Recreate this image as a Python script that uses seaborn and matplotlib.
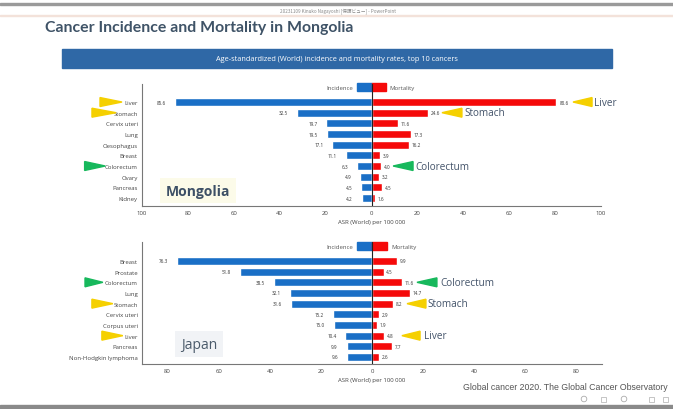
import pandas as pd
import matplotlib.pyplot as plt
import seaborn as sns
from matplotlib.patches import Polygon, Rectangle, Circle
from matplotlib.transforms import IdentityTransform

# data
mongolia_cancers = ['Liver', 'Stomach', 'Cervix uteri', 'Lung', 'Oesophagus',
                    'Breast', 'Colorectum', 'Ovary', 'Pancreas', 'Kidney']
mongolia_incidence = [85.6, 32.5, 19.7, 19.5, 17.1, 11.1, 6.3, 4.9, 4.5, 4.2]
mongolia_mortality = [80.6, 24.6, 11.6, 17.3, 16.2, 3.9, 4.0, 3.2, 4.5, 1.6]

japan_cancers = ['Breast', 'Prostate', 'Colorectum', 'Lung', 'Stomach',
                 'Cervix uteri', 'Corpus uteri', 'Liver', 'Pancreas',
                 'Non-Hodgkin lymphoma']
japan_incidence = [76.3, 51.8, 38.5, 32.1, 31.6, 15.2, 15.0, 10.4, 9.9, 9.6]
japan_mortality = [9.9, 4.5, 11.6, 14.7, 8.2, 2.9, 1.9, 4.8, 7.7, 2.6]

BLUE = '#1a6fc6'
RED = '#f50a0a'
YELLOW = '#f5d000'
GREEN = '#17b85c'
SLATE = '#44546a'

W, H = 673, 410
sns.set_theme(style='white')
plt.rcParams['font.family'] = ['Open Sans', 'DejaVu Sans']

fig = plt.figure(figsize=(W / 100, H / 100), dpi=100)
fig.patch.set_facecolor('white')


def fx(x):
    return x / W


def fy(y):
    return 1 - y / H


def make_df(cancers, inc, mort):
    df_inc = pd.DataFrame({'cancer': cancers, 'rate': [-v for v in inc], 'kind': 'Incidence'})
    df_mort = pd.DataFrame({'cancer': cancers, 'rate': mort, 'kind': 'Mortality'})
    return pd.concat([df_inc, df_mort], ignore_index=True)


def butterfly(rect, cancers, inc, mort, lim, ticks, ylim, legend_y, box_w):
    ax = fig.add_axes(rect)
    df = make_df(cancers, inc, mort)
    sns.barplot(data=df, y='cancer', x='rate', hue='kind', order=cancers,
                palette={'Incidence': BLUE, 'Mortality': RED}, dodge=False,
                width=0.75, saturation=1, legend=False, ax=ax)
    ax.set_xlim(-lim, lim)
    ax.set_ylim(*ylim)
    ax.set_xticks(ticks)
    ax.set_xticklabels([str(abs(t)) for t in ticks])
    ax.tick_params(axis='both', length=0, labelsize=4.3, colors='#444444', pad=3)
    ax.set_xlabel('ASR (World) per 100 000', fontsize=4.3, color='#444444', labelpad=3)
    ax.set_ylabel('')
    for s in ['top', 'right']:
        ax.spines[s].set_visible(False)
    for s in ['left', 'bottom']:
        ax.spines[s].set_color('#777777')
        ax.spines[s].set_linewidth(0.8)
    ax.axvline(0, color='#222222', lw=0.8, zorder=5)
    for i, v in enumerate(inc):
        ax.annotate(f'{v}', xy=(-v, i), xytext=(-6.5, 0), textcoords='offset points',
                    ha='right', va='center', fontsize=3.3, color='#333333')
    for i, v in enumerate(mort):
        ax.annotate(f'{v}', xy=(v, i), xytext=(2, 0), textcoords='offset points',
                    ha='left', va='center', fontsize=3.3, color='#333333')
    # legend boxes around zero
    ax.add_patch(Rectangle((-box_w, legend_y - 0.38), box_w, 0.76, color=BLUE, clip_on=False))
    ax.add_patch(Rectangle((0, legend_y - 0.38), box_w, 0.76, color=RED, clip_on=False))
    ax.text(-box_w - 1.5, legend_y, 'Incidence', ha='right', va='center', fontsize=4.3, color='#555555')
    ax.text(box_w + 1.5, legend_y, 'Mortality', ha='left', va='center', fontsize=4.3, color='#555555')
    return ax


def arrow(ax, tip, base, row, color, half=0.42):
    ax.add_patch(Polygon([(tip, row), (base, row - half), (base, row + half)],
                         closed=True, color=color, clip_on=False, zorder=6))


def arrow_label(ax, x, row, text):
    ax.text(x, row, text, ha='left', va='center', fontsize=7.2, color=SLATE)


# Mongolia chart
ax1 = butterfly([fx(142), fy(207), fx(601) - fx(142), fy(85) - fy(207)],
                mongolia_cancers, mongolia_incidence, mongolia_mortality,
                100, list(range(-100, 101, 20)), (9.75, -1.69), -1.4, 6.5)
arrow(ax1, 87.8, 96.1, 0, YELLOW)
arrow_label(ax1, 97.0, 0, 'Liver')
arrow(ax1, 30.7, 39.4, 1, YELLOW)
arrow_label(ax1, 40.7, 1, 'Stomach')
arrow(ax1, 9.4, 18.1, 6, GREEN)
arrow_label(ax1, 19.0, 6, 'Colorectum')
arrow(ax1, -108.7, -118.3, 0, YELLOW)
arrow(ax1, -111.3, -121.8, 1, YELLOW)
arrow(ax1, -116.0, -125.0, 6, GREEN)
ax1.text(-75.6, 8.3, 'Mongolia', ha='center', va='center', fontsize=10, fontweight='bold',
         color='#3d5066', bbox=dict(facecolor='#fcfbe9', edgecolor='none', pad=4))

# Japan chart
ax2 = butterfly([fx(142), fy(364.5), fx(602) - fx(142), fy(243) - fy(364.5)],
                japan_cancers, japan_incidence, japan_mortality,
                90, list(range(-80, 81, 20)), (9.61, -1.78), -1.4, 5.9)
arrow(ax2, 17.6, 25.4, 2, GREEN)
arrow_label(ax2, 26.6, 2, 'Colorectum')
arrow(ax2, 13.7, 21.1, 4, YELLOW)
arrow_label(ax2, 21.9, 4, 'Stomach')
arrow(ax2, 11.7, 18.8, 7, YELLOW)
arrow_label(ax2, 20.4, 7, 'Liver')
arrow(ax2, -105.3, -112.3, 2, GREEN)
arrow(ax2, -101.4, -109.6, 4, YELLOW)
arrow(ax2, -97.5, -105.7, 7, YELLOW)
ax2.text(-67.7, 7.8, 'Japan', ha='center', va='center', fontsize=10,
         color='#4a5a6a', bbox=dict(facecolor='#f1f3f6', edgecolor='none', pad=4))

# slide decorations
fig.add_artist(Rectangle((0, fy(6)), 1, fy(4) - fy(6), transform=fig.transFigure, color='#9a9a9a'))
fig.text(fx(338), fy(11), '20231109 Kinuko Nagayoshi [保護ビュー] - PowerPoint',
         ha='center', va='center', fontsize=3.3, color='#888888',
         family=['Noto Sans CJK JP', 'DejaVu Sans'])
fig.add_artist(Rectangle((0, fy(17)), 1, fy(16) - fy(17), transform=fig.transFigure, color='#f3e2da'))
fig.text(fx(45), fy(28), 'Cancer Incidence and Mortality in Mongolia', ha='left', va='center',
         fontsize=11.4, fontweight='bold', color='#3f5367', family=['Lato', 'DejaVu Sans'])
fig.add_artist(Rectangle((fx(62), fy(69)), fx(612) - fx(62), fy(50) - fy(69),
                         transform=fig.transFigure, color='#2f68a6'))
fig.text(fx(337), fy(59.5), 'Age-standardized (World) incidence and mortality rates, top 10 cancers',
         ha='center', va='center', fontsize=5.3, color='white')
fig.text(fx(668), fy(388), 'Global cancer 2020. The Global Cancer Observatory', ha='right',
         va='center', fontsize=6.3, color='#555555', family=['Liberation Sans', 'DejaVu Sans'])
for cx in [584, 624]:
    fig.add_artist(Circle((cx, H - 400), 2.8, transform=IdentityTransform(),
                          fill=False, ec='#aaaaaa', lw=0.6))
for cx in [603, 651, 665]:
    fig.add_artist(Rectangle((fx(cx - 2.5), fy(402.5)), 5 / W, 5 / H, transform=fig.transFigure,
                             fill=False, ec='#bbbbbb', lw=0.6))
fig.add_artist(Rectangle((0, fy(410)), 1, fy(406) - fy(410), transform=fig.transFigure, color='#8a8a8a'))

fig.savefig('out.png', dpi=100)
